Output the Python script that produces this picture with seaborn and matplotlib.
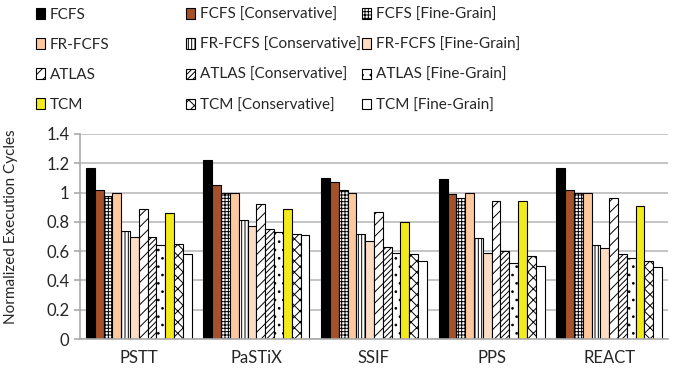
import pandas as pd
import matplotlib.pyplot as plt
import seaborn as sns
from matplotlib.patches import Patch
from matplotlib.ticker import FixedLocator, FuncFormatter

# benchmarks on the x axis
apps = ['PSTT', 'PaSTiX', 'SSIF', 'PPS', 'REACT']

# scheduler configurations (legend order)
configs = [
    'FCFS', 'FCFS [Conservative]', 'FCFS [Fine-Grain]',
    'FR-FCFS', 'FR-FCFS [Conservative]', 'FR-FCFS [Fine-Grain]',
    'ATLAS', 'ATLAS [Conservative]', 'ATLAS [Fine-Grain]',
    'TCM', 'TCM [Conservative]', 'TCM [Fine-Grain]',
]

# normalized execution cycles, one list per configuration (PSTT, PaSTiX, SSIF, PPS, REACT)
fcfs = [1.17, 1.22, 1.10, 1.09, 1.17]
fcfs_cons = [1.02, 1.05, 1.07, 0.99, 1.02]
fcfs_fg = [0.98, 1.00, 1.02, 0.96, 1.00]
frfcfs = [1.00, 1.00, 1.00, 1.00, 1.00]
frfcfs_cons = [0.74, 0.81, 0.72, 0.69, 0.64]
frfcfs_fg = [0.70, 0.77, 0.67, 0.59, 0.62]
atlas = [0.89, 0.92, 0.87, 0.94, 0.96]
atlas_cons = [0.70, 0.75, 0.63, 0.60, 0.58]
atlas_fg = [0.64, 0.73, 0.59, 0.52, 0.55]
tcm = [0.86, 0.89, 0.80, 0.94, 0.91]
tcm_cons = [0.65, 0.72, 0.58, 0.57, 0.53]
tcm_fg = [0.58, 0.71, 0.53, 0.50, 0.49]

series = [fcfs, fcfs_cons, fcfs_fg, frfcfs, frfcfs_cons, frfcfs_fg,
          atlas, atlas_cons, atlas_fg, tcm, tcm_cons, tcm_fg]

y_ticks = [0, 0.2, 0.4, 0.6, 0.8, 1.0, 1.2, 1.4]

colors = ['#000000', '#A5522A', '#FFFFFF',
          '#FCC89C', '#FFFFFF', '#FDDCC4',
          '#FFFFFF', '#FFFFFF', '#FFFFFF',
          '#F2EA1A', '#FFFFFF', '#FFFFFF']
hatches = ['', '', '+++++',
           '', '|||||', '',
           '///', '//////', '..',
           '', 'xxx', '']

rows = []
for cfg, vals in zip(configs, series):
    for app, v in zip(apps, vals):
        rows.append({'app': app, 'config': cfg, 'value': v})
df = pd.DataFrame(rows)

sns.set_theme(style='white')
plt.rcParams['font.family'] = ['Lato', 'DejaVu Sans']
plt.rcParams['hatch.linewidth'] = 0.7

fig = plt.figure(figsize=(6.78, 3.72), dpi=100)
ax = fig.add_axes([80 / 678, 1 - 339 / 372, 588 / 678, 205 / 372])

sns.barplot(data=df, x='app', y='value', hue='config', hue_order=configs,
            palette=colors, saturation=1, width=0.9, edgecolor='black',
            linewidth=0.8, legend=False, ax=ax)

for cont, h in zip(ax.containers, hatches):
    for bar in cont:
        bar.set_hatch(h)

ax.set_ylim(0, 1.4)
ax.set_xlim(-0.5, len(apps) - 0.5)
ax.yaxis.set_major_locator(FixedLocator(y_ticks))
ax.yaxis.set_major_formatter(FuncFormatter(lambda v, p: f'{v:g}'))
ax.grid(axis='y', color='#BBBBBB', linewidth=1.2)
ax.set_axisbelow(True)
for s in ['top', 'right']:
    ax.spines[s].set_visible(False)
for s in ['left', 'bottom']:
    ax.spines[s].set_color('#AAAAAA')
    ax.spines[s].set_linewidth(1.2)

ax.xaxis.set_minor_locator(FixedLocator([i - 0.5 for i in range(len(apps) + 1)]))
ax.tick_params(axis='x', which='major', length=0, labelsize=12, pad=8)
ax.tick_params(axis='x', which='minor', length=5, width=1.2, color='#AAAAAA')
ax.tick_params(axis='y', length=4, width=1.2, color='#AAAAAA', labelsize=12, left=True)
ax.set_xlabel('')
ax.set_ylabel('Normalized Execution Cycles', fontsize=11, labelpad=6)
ax.yaxis.set_label_coords(-0.105, 0.55)

# legend in three separately placed columns
handles = [Patch(facecolor=c, edgecolor='black', hatch=h, linewidth=0.8)
           for c, h in zip(colors, hatches)]
col_x = [36 / 678, 186 / 678, 362 / 678]
for j in range(3):
    idx = [j, j + 3, j + 6, j + 9]
    fig.legend([handles[i] for i in idx], [configs[i] for i in idx],
               loc='upper left', bbox_to_anchor=(col_x[j], 1 - 8 / 372),
               frameon=False, fontsize=11, ncol=1, borderpad=0, borderaxespad=0,
               handlelength=0.6, handleheight=0.7, handletextpad=0.3,
               labelspacing=1.05)

fig.savefig('out.png', dpi=100)
